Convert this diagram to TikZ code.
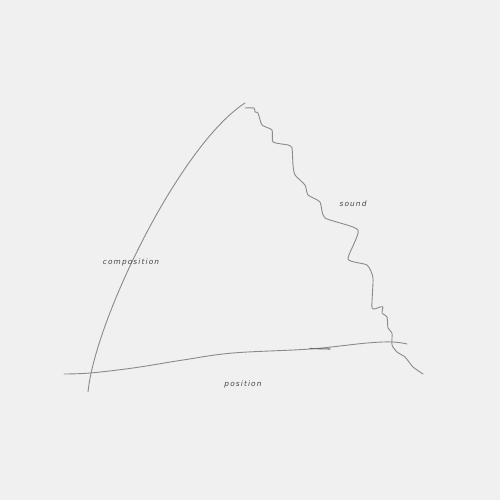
\documentclass[tikz,border=0pt]{standalone}
\usepackage{fontspec}
\newfontfamily\labfont[LetterSpace=15]{DejaVu Sans}
\definecolor{bg}{HTML}{F0F0F0}
\definecolor{ink}{HTML}{8A8A8A}
\definecolor{txt}{HTML}{444444}
\tikzset{
  stroke/.style={draw=ink, line width=0.9pt, line cap=round, line join=round},
  lab/.style={text=txt, font=\labfont\fontsize{7.4}{8}\selectfont\itshape, inner sep=0pt}
}
\begin{document}
\begin{tikzpicture}[x=1pt,y=-1pt]
\fill[bg] (0,0) rectangle (500,500);
\useasboundingbox (0,0) rectangle (500,500);
% composition curve
\coordinate (ctop) at (245,103);
\coordinate (cbot) at (88,392);
\draw[stroke] (ctop) .. controls (180,145) and (95,320) .. (cbot);
% sound line
\draw[stroke] plot[smooth, tension=0.35] coordinates {(245,108) (254,108) (255,112) (258,113) (262,125) (272,130) (273,142) (288,145) (292,148) (293,165) (295,175) (305,185) (308,195) (320,202) (325,218) (358,230) (348,259) (367,265) (373,278) (372,308) (380,307) (383,307) (382,313) (387,317) (388,328) (392,333) (392,345) (397,352) (405,357) (413,367) (423,374)};
% position line
\draw[stroke] plot[smooth, tension=0.6] coordinates {(64,374) (90,373) (133,368) (183,360) (233,353) (310,349) (367,343) (393,342) (407,344)};
\draw[stroke, line width=1.1pt, draw=ink!80!black] (310,348.5) -- (330,349);
% labels
\node[lab] (sound) at (353,204) {sound};
\node[lab] (composition) at (131,262) {composition};
\node[lab] (position) at (243,384) {position};
\end{tikzpicture}
\end{document}
